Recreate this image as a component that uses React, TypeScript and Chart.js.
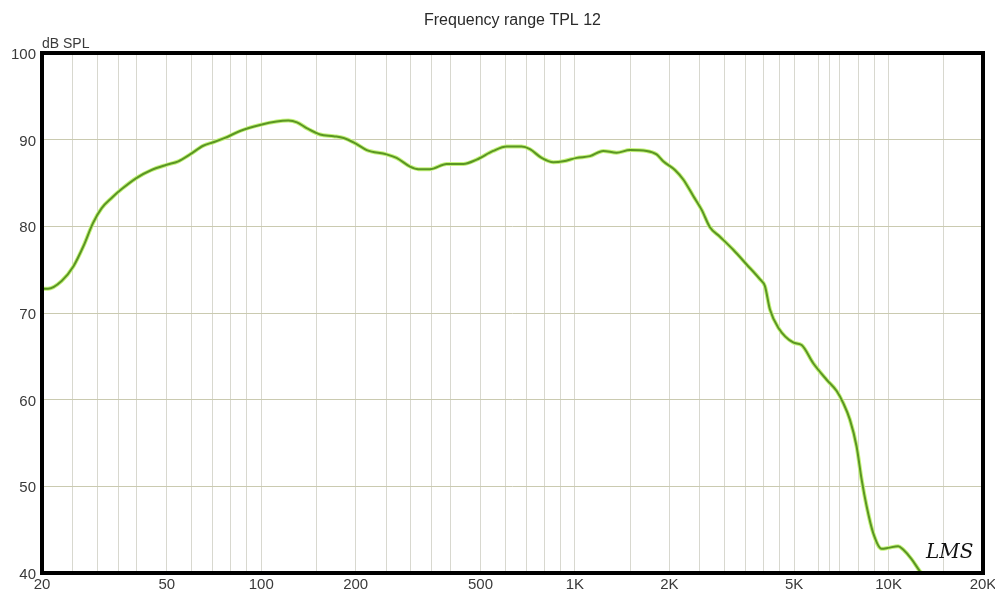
import React, { useEffect, useRef } from "react";
import { Chart, registerables } from "chart.js";

Chart.register(...registerables);

// Frequency response data (Hz, dB SPL)
const freqHz = [
  20, 20.9, 23.1, 25.2, 27.1, 29.1, 31.0, 33.4, 35.9, 40.1, 44.7, 49.9, 54.4, 59.3, 65.3, 70.3, 76.6, 85.6,
  99.1, 112, 122, 130, 140, 154, 170, 183, 199, 217, 251, 270, 298, 317, 345, 390, 441, 486, 549, 606, 676,
  719, 783, 853, 918, 1013, 1117, 1231, 1358, 1498, 1693, 1822, 1912, 2084, 2215, 2384, 2536, 2694, 2900,
  3197, 3528, 3888, 4034, 4186, 4450, 4966, 5282, 5752, 6346, 6832, 7170, 7528, 7908, 8204, 8512, 8934,
  9500, 9974, 10730, 11130, 11840, 12590, 12750,
];
const splDb = [
  72.8, 72.8, 73.7, 75.4, 77.7, 80.4, 82.1, 83.3, 84.3, 85.6, 86.5, 87.1, 87.5, 88.3, 89.3, 89.7, 90.2, 91.0,
  91.7, 92.1, 92.2, 92.0, 91.3, 90.6, 90.4, 90.2, 89.6, 88.8, 88.3, 87.9, 86.9, 86.6, 86.6, 87.2, 87.2, 87.7,
  88.7, 89.2, 89.2, 88.9, 87.9, 87.4, 87.5, 87.9, 88.1, 88.7, 88.5, 88.8, 88.7, 88.3, 87.5, 86.5, 85.4, 83.5,
  81.9, 79.9, 78.8, 77.3, 75.6, 73.9, 73.1, 70.4, 68.3, 66.6, 66.3, 64.2, 62.3, 61.0, 59.6, 57.7, 54.6, 50.8,
  47.7, 44.6, 42.8, 42.9, 43.1, 42.7, 41.6, 40.2, 40.0,
];

// Vertical grid lines (Hz)
const gridFreqs = [
  20, 25, 30, 35, 40, 50, 60, 70, 80, 90, 100, 150, 200, 250, 300, 350, 400, 500, 600, 700, 800, 900, 1000,
  1500, 2000, 2500, 3000, 3500, 4000, 4500, 5000, 6000, 6500, 7000, 8000, 9000, 10000, 15000, 20000,
];
// Labelled frequencies
const labelFreqs = [20, 50, 100, 200, 500, 1000, 2000, 5000, 10000, 20000];
const labelTexts = ["20", "50", "100", "200", "500", "1K", "2K", "5K", "10K", "20K"];
// dB ticks
const dbTicks = [40, 50, 60, 70, 80, 90, 100];

const titleText = "Frequency range TPL 12";
const yUnitText = "dB SPL";
const logoText = "LMS";

const FONT = '"Liberation Sans", Arial, Helvetica, sans-serif';

export default function App() {
  const ref = useRef<HTMLCanvasElement | null>(null);

  useEffect(() => {
    if (!ref.current) return;
    const points = freqHz.map((f, i) => ({ x: f, y: splDb[i] }));

    const decor = {
      id: "decor",
      afterDraw(chart: any) {
        const { ctx, chartArea: ca, scales } = chart;
        const xs = scales.x;
        const ys = scales.y;
        ctx.save();
        // frame
        ctx.lineWidth = 4;
        ctx.strokeStyle = "#000";
        ctx.strokeRect(ca.left, ca.top, ca.right - ca.left, ca.bottom - ca.top);

        // x labels
        ctx.fillStyle = "#3a3a3a";
        ctx.font = `15px ${FONT}`;
        ctx.textAlign = "center";
        ctx.textBaseline = "alphabetic";
        labelFreqs.forEach((f, i) => {
          ctx.fillText(labelTexts[i], xs.getPixelForValue(f), ca.bottom + 16);
        });

        // y labels
        ctx.textAlign = "right";
        ctx.textBaseline = "middle";
        dbTicks.forEach((v) => {
          ctx.fillText(String(v), ca.left - 6, ys.getPixelForValue(v) + 2);
        });

        // unit
        ctx.textAlign = "left";
        ctx.textBaseline = "alphabetic";
        ctx.font = `14px ${FONT}`;
        ctx.fillText(yUnitText, ca.left, ca.top - 5);

        // title
        ctx.textAlign = "center";
        ctx.font = `16px ${FONT}`;
        ctx.fillStyle = "#2a2a2a";
        ctx.fillText(titleText, (ca.left + ca.right) / 2, 25);

        // logo
        ctx.textAlign = "left";
        ctx.font = `italic 20px "DejaVu Serif", serif`;
        ctx.fillStyle = "#111";
        ctx.fillText(logoText, ca.right - 57, ca.bottom - 15);
        ctx.restore();
      },
    };

    const chart = new Chart(ref.current, {
      type: "line",
      data: {
        datasets: [
          {
            data: points,
            borderColor: "#5a9624",
            borderWidth: 2,
            pointRadius: 0,
            cubicInterpolationMode: "monotone",
            fill: false,
          },
          {
            data: points,
            borderColor: "#c4f27a",
            borderWidth: 4,
            pointRadius: 0,
            cubicInterpolationMode: "monotone",
            fill: false,
          },
        ],
      },
      options: {
        animation: false,
        responsive: true,
        maintainAspectRatio: false,
        layout: { padding: { left: 42, right: 12, top: 53, bottom: 18 } },
        plugins: {
          legend: { display: false },
          tooltip: { enabled: false },
          title: { display: false },
        },
        scales: {
          x: {
            type: "logarithmic",
            min: 20,
            max: 20000,
            afterBuildTicks: (s: any) => {
              s.ticks = gridFreqs.map((v) => ({ value: v }));
            },
            ticks: { display: false },
            grid: { color: "#d8d8cf", lineWidth: 1, drawTicks: false },
            border: { display: false },
          },
          y: {
            type: "linear",
            min: 40,
            max: 100,
            afterBuildTicks: (s: any) => {
              s.ticks = dbTicks.map((v) => ({ value: v }));
            },
            ticks: { display: false },
            grid: { color: "#cacab0", lineWidth: 1, drawTicks: false },
            border: { display: false },
          },
        },
      },
      plugins: [decor],
    } as any);

    return () => chart.destroy();
  }, []);

  return (
    <div style={{ position: "absolute", left: 0, top: 0, width: 995, height: 591, background: "#fff" }}>
      <canvas ref={ref} />
    </div>
  );
}
